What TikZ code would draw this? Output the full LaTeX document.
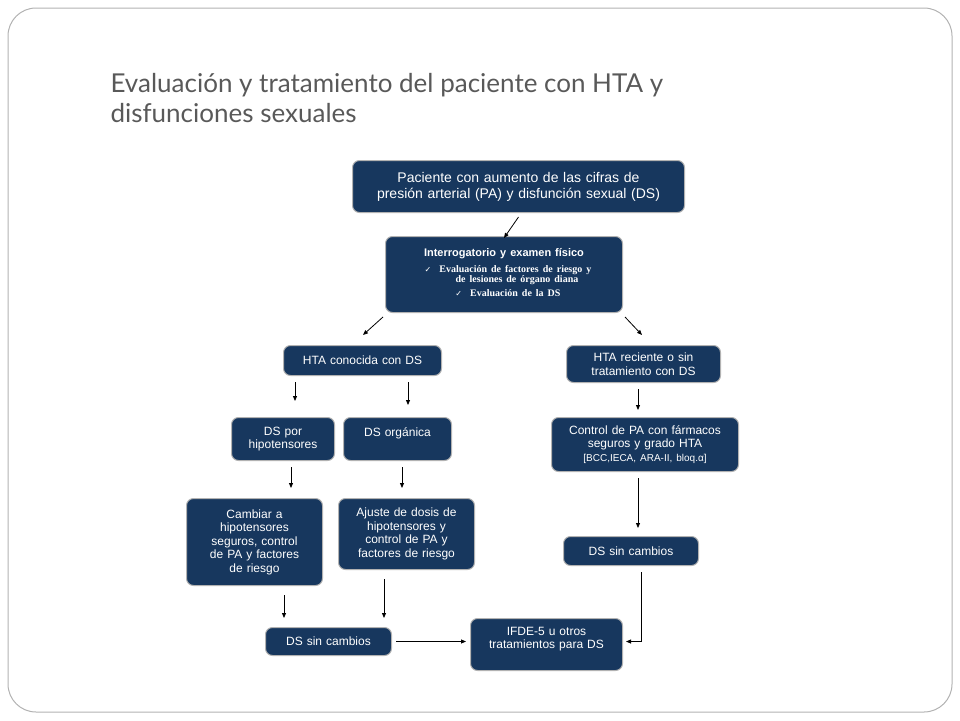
\documentclass[tikz,border=0pt]{standalone}
\usepackage{fontspec}
\setmainfont{Liberation Sans}
\newfontfamily\titlefont{Lato}
\newfontfamily\serifb{Liberation Serif}
\newfontfamily\symf{DejaVu Sans}
\usetikzlibrary{arrows.meta}
\definecolor{navy}{HTML}{17375E}
\definecolor{tgray}{HTML}{595959}
\begin{document}
\begin{tikzpicture}[x=1pt,y=-1pt,
  bx/.style={draw=gray!60,line width=1pt,fill=navy,rounded corners=7pt,text=white,align=center,font=\fontsize{12}{13.5}\selectfont,anchor=north west,inner sep=2pt},
  arr/.style={-{Triangle[length=5pt,width=4pt]},line width=0.8pt}]
\useasboundingbox (0,0) rectangle (960,720);
\draw[gray!60,line width=1pt,rounded corners=28pt] (8,8) rectangle (952,712);
\node[anchor=west,text=tgray,font=\titlefont\fontsize{26}{30}\selectfont,align=left] (title) at (107,98) {Evaluación y tratamiento del paciente con HTA y\\disfunciones sexuales};
\newcommand{\bxat}[7]{\node[bx,minimum width=#4-#2,minimum height=#5-#3,text width=#4-#2-8,#7] (#1) at (#2,#3) {#6};}
\bxat{b1}{352}{160}{684}{212}{Paciente con aumento de las cifras de\\presión arterial (PA) y disfunción sexual (DS)}{font=\fontsize{14}{16}\selectfont}
\node[bx,minimum width=237,minimum height=76,text width=225,anchor=north west,align=left] (b2) at (385,236) {\centering\textbf{\fontsize{11}{13}\selectfont Interrogatorio y examen físico}\par\vspace{5pt}
{\serifb\bfseries\fontsize{10}{10.5}\selectfont
\hspace*{8pt}{\symf\fontsize{8}{8}\selectfont ✓}\hspace{8pt}Evaluación de factores de riesgo y\\
\hspace*{26pt}de lesiones de órgano diana\\
\hspace*{8pt}{\symf\fontsize{8}{8}\selectfont ✓}\hspace{8pt}Evaluación de la DS}\par\vspace{4pt}};
\bxat{b3}{283}{345}{441}{375}{HTA conocida con DS}{}
\bxat{b4}{566}{345}{720}{382}{HTA reciente o sin\\tratamiento con DS}{}
\bxat{b5}{231}{417}{334}{460}{DS por\\hipotensores}{}
\bxat{b6}{343}{417}{451}{460}{DS orgánica\\\mbox{}}{}
\bxat{b7}{551}{417}{738}{471}{Control de PA con fármacos\\seguros y grado HTA\\{\fontsize{10}{12}\selectfont[BCC,IECA, ARA-II, bloq.α]}}{}
\bxat{b8}{186}{498}{322}{585}{Cambiar a\\hipotensores\\seguros, control\\de PA y factores\\de riesgo}{}
\bxat{b9}{338}{498}{474}{569}{Ajuste de dosis de\\hipotensores y\\control de PA y\\factores de riesgo}{}
\bxat{b10}{563}{536}{698}{565}{DS sin cambios}{}
\bxat{b11}{265}{627}{391}{655}{DS sin cambios}{}
\bxat{b12}{470}{618}{622}{670}{IFDE-5 u otros\\tratamientos para DS\\\mbox{}}{}
\draw[arr] (b1.south) ++(0,4) -- ([yshift=-2pt]b2.north);
\draw[arr] ([shift={(-2,4)}]b2.south west) -- ([shift={(80,-10)}]b3.north west);
\draw[arr] ([shift={(2,4)}]b2.south east) -- ([shift={(76,-10)}]b4.north west);
\draw[arr] ([shift={(12,6)}]b3.south west) -- ([shift={(12,-16)}]b3.south west |- b5.north);
\draw[arr] ([shift={(125,6)}]b3.south west) -- ([shift={(125,-12)}]b3.south west |- b5.north);
\draw[arr] ([shift={(72,6)}]b4.south west) -- ([shift={(72,-7)}]b4.south west |- b7.north);
\draw[arr] ([shift={(60,6)}]b5.south west) -- ([shift={(60,-10)}]b5.south west |- b8.north);
\draw[arr] ([shift={(59,6)}]b6.south west) -- ([shift={(59,-10)}]b6.south west |- b9.north);
\draw[arr] ([shift={(87,6)}]b7.south west) -- ([shift={(87,-8)}]b7.south west |- b10.north);
\draw[arr] ([shift={(98,9)}]b8.south west) -- ([shift={(98,-9)}]b8.south west |- b11.north);
\draw[arr] ([shift={(46,9)}]b9.south west) -- ([shift={(46,-9)}]b9.south west |- b11.north);
\draw[arr] ([shift={(4,0)}]b11.east) -- ([shift={(-4,0)}]b11.east -| b12.west);
\draw[arr] ([shift={(-58,6)}]b10.south east) |- ([shift={(3,0)}]b11.east -| b12.east);
\end{tikzpicture}
\end{document}
